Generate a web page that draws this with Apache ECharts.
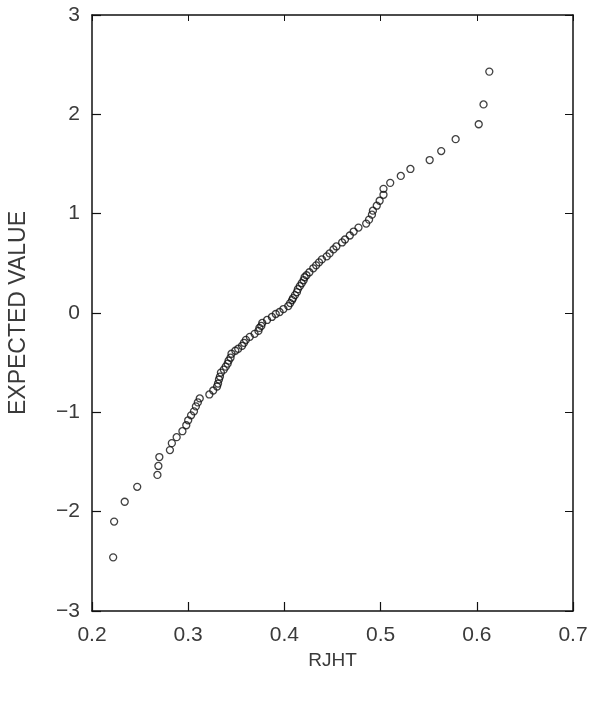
<!DOCTYPE html>
<html>
<head>
<meta charset="utf-8">
<script src="https://cdn.jsdelivr.net/npm/echarts@6/dist/echarts.min.js"></script>
<style>
html,body{margin:0;padding:0;background:#fff;}
#chart{width:590px;height:711px;}
</style>
</head>
<body>
<div id="chart"></div>
<script>
// RJHT values (x), sorted ascending
var rjht = [
0.222,0.223,0.234,0.247,0.268,0.269,0.270,0.281,0.283,0.288,
0.294,0.298,0.300,0.303,0.306,0.308,0.310,0.312,0.322,0.326,
0.330,0.331,0.332,0.333,0.334,0.337,0.339,0.341,0.342,0.344,
0.345,0.349,0.352,0.356,0.358,0.360,0.364,0.369,0.373,0.374,
0.376,0.377,0.382,0.387,0.391,0.395,0.399,0.404,0.406,0.408,
0.409,0.411,0.413,0.414,0.416,0.418,0.420,0.421,0.423,0.426,
0.430,0.433,0.436,0.439,0.444,0.447,0.451,0.454,0.460,0.463,
0.468,0.472,0.477,0.485,0.488,0.491,0.492,0.496,0.499,0.503,
0.503,0.510,0.521,0.531,0.551,0.563,0.578,0.602,0.607,0.613
];
// Expected normal values (y)
var expectedValue = [
-2.46,-2.10,-1.90,-1.75,-1.63,-1.54,-1.45,-1.38,-1.31,-1.25,
-1.19,-1.13,-1.08,-1.03,-0.99,-0.94,-0.90,-0.86,-0.82,-0.78,
-0.74,-0.71,-0.67,-0.64,-0.60,-0.57,-0.54,-0.51,-0.48,-0.45,
-0.41,-0.38,-0.36,-0.33,-0.30,-0.27,-0.24,-0.21,-0.18,-0.15,
-0.13,-0.10,-0.07,-0.04,-0.01,0.01,0.04,0.07,0.10,0.13,
0.15,0.18,0.21,0.24,0.27,0.30,0.33,0.36,0.38,0.41,
0.45,0.48,0.51,0.54,0.57,0.60,0.64,0.67,0.71,0.74,
0.78,0.82,0.86,0.90,0.94,0.99,1.03,1.08,1.13,1.19,
1.25,1.31,1.38,1.45,1.54,1.63,1.75,1.90,2.10,2.43
];
var xTicks = ['0.2','0.3','0.4','0.5','0.6','0.7'];
var yTicks = ['−3','−2','−1','0','1','2','3'];

var points = rjht.map(function(x, i){ return [x, expectedValue[i]]; });

var chart = echarts.init(document.getElementById('chart'), null, {renderer:'canvas'});
var font = '"Liberation Sans", Arial, sans-serif';
var labelColor = '#3a3a3a';
var axisLine = {show:true, onZero:false, lineStyle:{color:'#111', width:1.5}};
chart.setOption({
  animation:false,
  backgroundColor:'#fff',
  grid:{left:92, right:17, top:15, bottom:100, containLabel:false, outerBoundsMode:'none'},
  xAxis:[{
    type:'value', min:0.2, max:0.7, interval:0.1, position:'bottom',
    axisLine:axisLine,
    axisTick:{show:true, inside:true, length:9, lineStyle:{color:'#111', width:1.2}},
    splitLine:{show:false},
    axisLabel:{color:labelColor, fontSize:21, fontFamily:font, margin:14,
      formatter:function(v){ var k=Math.round((v-0.2)/0.1); return xTicks[k]; }},
    name:'RJHT', nameLocation:'middle', nameGap:40,
    nameTextStyle:{color:labelColor, fontSize:19, fontFamily:font}
  },{
    type:'value', min:0.2, max:0.7, interval:0.1, position:'top',
    axisLine:axisLine,
    axisTick:{show:true, inside:true, length:6, lineStyle:{color:'#111', width:1}},
    axisLabel:{show:false}, splitLine:{show:false}
  }],
  yAxis:[{
    type:'value', min:-3, max:3, interval:1, position:'left',
    axisLine:axisLine,
    axisTick:{show:true, inside:true, length:9, lineStyle:{color:'#111', width:1.2}},
    splitLine:{show:false},
    axisLabel:{color:labelColor, fontSize:21, fontFamily:font, margin:12,
      formatter:function(v){ return yTicks[Math.round(v+3)]; }},
    name:'EXPECTED VALUE', nameLocation:'middle', nameGap:62, nameRotate:90,
    nameTextStyle:{color:labelColor, fontSize:23, fontFamily:font}
  },{
    type:'value', min:-3, max:3, interval:1, position:'right',
    axisLine:axisLine,
    axisTick:{show:true, inside:true, length:8, lineStyle:{color:'#111', width:1}},
    axisLabel:{show:false}, splitLine:{show:false}
  }],
  series:[{
    type:'scatter',
    data:points,
    symbol:'circle',
    symbolSize:7,
    itemStyle:{color:'rgba(255,255,255,0)', borderColor:'#111', borderWidth:1.3}
  }]
});
</script>
</body>
</html>
